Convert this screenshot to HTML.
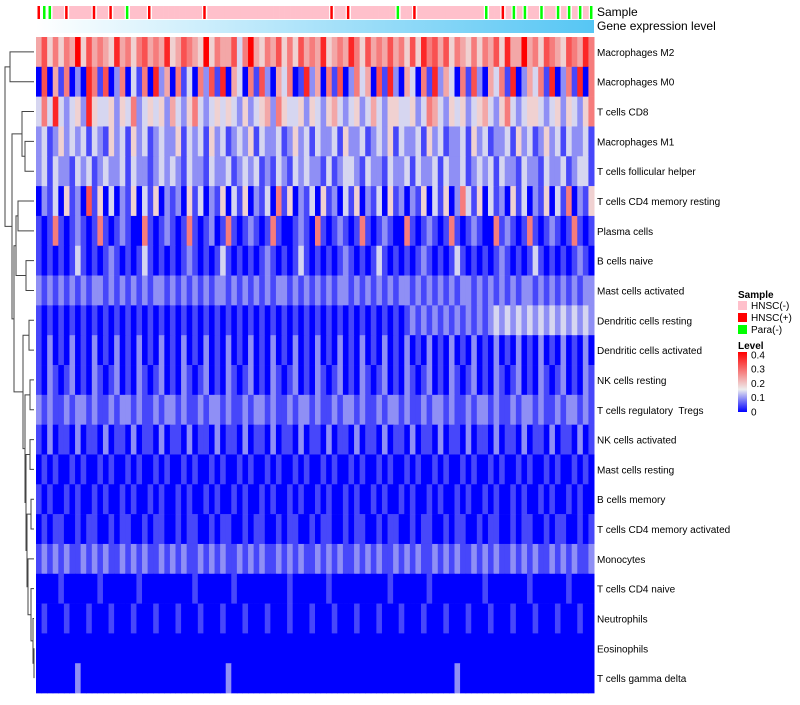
<!DOCTYPE html>
<html><head><meta charset="utf-8"><style>
body{margin:0;background:#fff;font-family:"Liberation Sans",sans-serif}
svg text{font-family:"Liberation Sans",sans-serif;white-space:pre}
</style></head><body>
<svg id="chart" width="800" height="700" xmlns="http://www.w3.org/2000/svg">
<defs>
<linearGradient id="gexp" x1="0" x2="1" y1="0" y2="0"><stop offset="0" stop-color="#ffffff"/><stop offset="1" stop-color="#56c6f4"/></linearGradient>
<linearGradient id="lvl" x1="0" x2="0" y1="1" y2="0"><stop offset="0" stop-color="#0000ff"/><stop offset="0.375" stop-color="#eeeeee"/><stop offset="1" stop-color="#ff0000"/></linearGradient>
</defs>
<g id="annot"></g>
<g id="cells"></g>
<g id="labels"></g>
<g id="dendro" stroke="#444" stroke-width="1" fill="none"></g>
<g>
<text x="738" y="298" font-size="10" font-weight="bold">Sample</text>
<rect x="738" y="301" width="9" height="9" fill="#ffc0cb"/>
<text x="751" y="309" font-size="10">HNSC(-)</text>
<rect x="738" y="313" width="9" height="9" fill="#ff0000"/>
<text x="751" y="321" font-size="10">HNSC(+)</text>
<rect x="738" y="325" width="9" height="9" fill="#00ff00"/>
<text x="751" y="333" font-size="10">Para(-)</text>
<text x="738" y="349" font-size="10" font-weight="bold">Level</text>
<rect x="738" y="352" width="9" height="60" fill="url(#lvl)"/>
<g id="lvlticks"></g>
</g>
</svg>
<script>
const rowNames=["Macrophages M2","Macrophages M0","T cells CD8","Macrophages M1","T cells follicular helper","T cells CD4 memory resting","Plasma cells","B cells naive","Mast cells activated","Dendritic cells resting","Dendritic cells activated","NK cells resting","T cells regulatory  Tregs","NK cells activated","Mast cells resting","B cells memory","T cells CD4 memory activated","Monocytes","T cells CD4 naive","Neutrophils","Eosinophils","T cells gamma delta"];
const row01="5746465947565485646756584576549465573695465746475658456586475657564748675746546465748559564765476586";
const row02="0705160208617026031608250613062718053061720536018250617026350718205306182530617205361802536180261806";
const row03="3638323428433424362343425324632343432423452643342432453234235324433423653243423453246323443234243246";
const row04="2312423231321423142312322413231423123241322312423132231422312324132231423122314231223142312423132231";
const row05="2313221323123223132212323213221322312323121321323221312332132213223132231322312323132213221322312331";
const row06="0213041207140302140314021204130214031402130614021304120314021304120214031402631403120413021403160214";
const row07="1016101210161012100610121016101201610121016100121061012101610121006101210161012100612101610121016101";
const row08="1010101310101210101310101012101013101010121010131010101210101310101012101013101010121010131010101210";
const row09="2121212121221212121212212121212122121212121221212121212212121212122121212121221212121212212121212122";
const row10="1010101010101010101010101010101010101010101010101010101010101010101212121212121212323232323232323232";
const row11="1020102010201020102010201020102010201020102010201020102010201020102010201020102010201020102010201020";
const row12="1021012010210120102101201021012010210120102101201021012010210120102101201021012010210120102101201021";
const row13="2121121221211212212112122121121221211212212112122121121221211212212112122121121221211212212112122121";
const row14="1020110201102011020110201102011020110201102011020110201102011020110201102011020110201102011020110201";
const row15="0101001010010100101001010010100101001010010100101001010010100101001010010100101001010010100101001010";
const row16="1010010100101001010010100101001010010100101001010010100101001010010100101001010010100101001010010100";
const row17="0101100101100101100101100101100101100101100101100101100101100101100101100101100101100101100101100101";
const row18="1212121121212112121211212121121212112121211212121121212112121211212121121212112121211212121121212112";
const row19="0000100000010000001000000000100000010000000001000000100000000001000000100000000010000000100000010000";
const row20="0100010001000100010001000100010001000100010001000100010001000100010001000100010001000100010001000100";
const row21="0000000000000000000000000000000000000000000000000000000000000000000000000000000000000000000000000000";
const row22="0000000200000000000000000000000000200000000000000000000000000000000000000002000000000000000000000000";
const sampleCodes="RGGPPRPPPPRPPRPPGPPPRPPPPPPPPPRPPPPPPPPPPPPPPPPPPPPPPRPPRPPPPPPPPGPPRPPPPPPPPPPPPGPPRPGPGPPGPPGPGPGPG";
const levelTicks=["0","0.1","0.2","0.3","0.4"];
const rows=[row01,row02,row03,row04,row05,row06,row07,row08,row09,row10,row11,row12,row13,row14,row15,row16,row17,row18,row19,row20,row21,row22];
const NS="http://www.w3.org/2000/svg";
const X0=36,X1=594,Y0=37,RH=29.82;
const nCol=rows[0].length;
const cw=(X1-X0)/nCol;
function xs(j){return X0+j*cw;}
function ys(i){return Y0+i*RH;}
function val(ch){return (+ch)*0.045;}
function lerp(a,b,t){return Math.round(a+(b-a)*t);}
function color(v){
  const w=0.15;
  if(v<=w){const t=v/w;return `rgb(${lerp(0,238,t)},${lerp(0,238,t)},${lerp(255,238,t)})`;}
  const t=Math.min(1,(v-w)/(0.4-w));return `rgb(${lerp(238,255,t)},${lerp(238,0,t)},${lerp(238,0,t)})`;
}
const cells=document.getElementById('cells');
rows.forEach((r,i)=>{
  for(let j=0;j<r.length;j++){
    const rc=document.createElementNS(NS,'rect');
    rc.setAttribute('x',xs(j));rc.setAttribute('y',ys(i));
    rc.setAttribute('width',cw+0.5);rc.setAttribute('height',RH+0.3);
    rc.setAttribute('fill',color(val(r[j])));
    
    
    cells.appendChild(rc);
  }
  const t=document.createElementNS(NS,'text');
  t.setAttribute('x',597);t.setAttribute('y',ys(i)+RH/2+4);t.setAttribute('font-size','10');
  t.textContent=rowNames[i];
  
  
  document.getElementById('labels').appendChild(t);
});
const annot=document.getElementById('annot');
const sc={P:"#ffc0cb",R:"#ff0000",G:"#00ff00"};
const scw=(X1-X0)/sampleCodes.length;
for(let j=0;j<sampleCodes.length;j++){
  const rc=document.createElementNS(NS,'rect');
  const narrow=sampleCodes[j]!=="P";
  rc.setAttribute('x',X0+j*scw+(narrow?1.5:0));rc.setAttribute('y',6);rc.setAttribute('width',narrow?2.5:scw+0.3);rc.setAttribute('height',13);
  rc.setAttribute('fill',sc[sampleCodes[j]]);
  
  
  if(!narrow) annot.insertBefore(rc,annot.firstChild); else annot.appendChild(rc);
}
const g=document.createElementNS(NS,'rect');
g.setAttribute('x',X0);g.setAttribute('y',20);g.setAttribute('width',X1-X0);g.setAttribute('height',13);g.setAttribute('fill','url(#gexp)');


annot.appendChild(g);
[["Sample",16],["Gene expression level",30]].forEach(a=>{
  const t=document.createElementNS(NS,'text');t.setAttribute('x',597);t.setAttribute('y',a[1]);t.setAttribute('font-size','12');t.textContent=a[0];
  
  
  annot.appendChild(t);
});
const lt=document.getElementById('lvlticks');
levelTicks.forEach((s,k)=>{
  const y=412-k*14.3;
  const t=document.createElementNS(NS,'text');t.setAttribute('x',751);t.setAttribute('y',y+3.5);t.setAttribute('font-size','10');t.textContent=s;
  
  
  lt.appendChild(t);
});
const cy=i=>ys(i)+RH/2;
const d=document.getElementById('dendro');
function seg(p){const e=document.createElementNS(NS,'path');e.setAttribute('d',p);


d.appendChild(e);}
function join(a,ax,b,bx,x){seg(`M${ax},${a}H${x}V${b}H${bx}`);return (a+b)/2;}
const R=X0-2;
let m01=join(cy(0),R,cy(1),R,10);
let m34=join(cy(3),R,cy(4),R,25);
let m234=join(cy(2),R,m34,25,22);
let m56=join(cy(5),R,cy(6),R,18);
let m78=join(cy(7),R,cy(8),R,26);
let m5_8=join(m56,18,m78,26,16);
let acc=join(cy(20),R,cy(21),R,34);let ax=34;
acc=join(cy(19),R,acc,ax,33);ax=33;
acc=join(cy(18),R,acc,ax,31);ax=31;
acc=join(cy(17),R,acc,ax,28);ax=28;
let m1516=join(cy(15),R,cy(16),R,31);
acc=join(m1516,31,acc,ax,27);ax=27;
let m1314=join(cy(13),R,cy(14),R,30);
acc=join(m1314,30,acc,ax,26);ax=26;
let m1112=join(cy(11),R,cy(12),R,30);
acc=join(m1112,30,acc,ax,25);ax=25;
let m910=join(cy(9),R,cy(10),R,29);
acc=join(m910,29,acc,ax,23);ax=23;
acc=join(m5_8,16,acc,ax,14);ax=14;
acc=join(m234,22,acc,ax,12);ax=12;
join(m01,10,acc,ax,5);
</script>
</body></html>
